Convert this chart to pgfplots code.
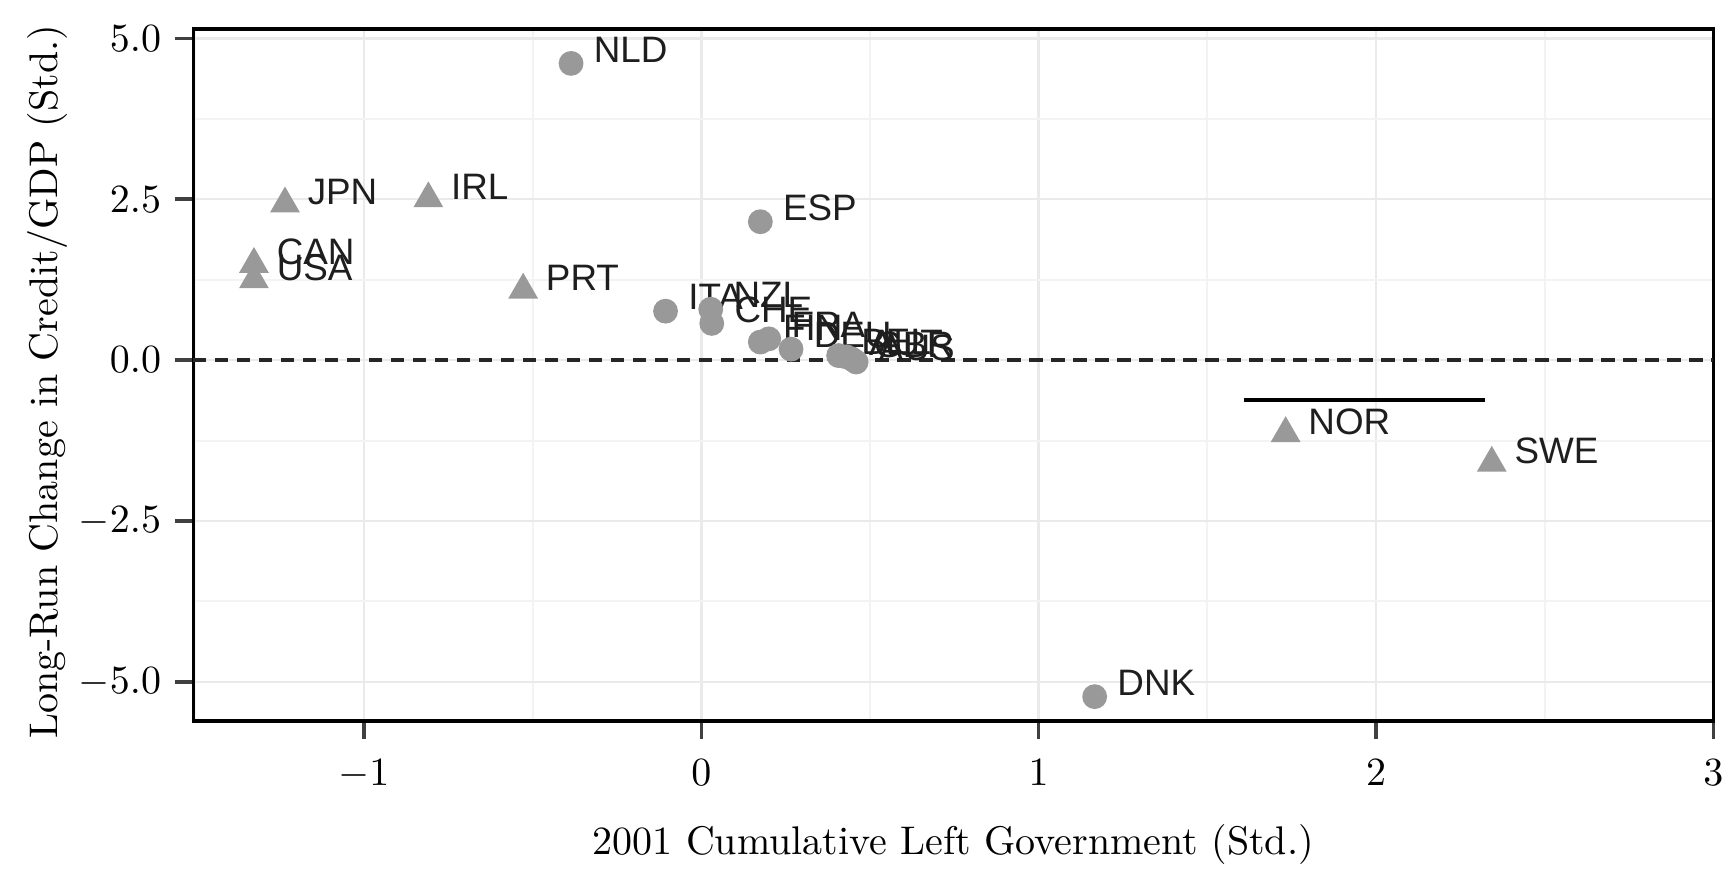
\documentclass[border=0pt]{standalone}
\usepackage{pgfplots}
\pgfplotsset{compat=1.18}
\usepackage{fontspec}
\newfontfamily\lab{Liberation Sans}
\definecolor{ptc}{RGB}{153,153,153}
\definecolor{gridc}{RGB}{234,234,234}
\definecolor{labc}{RGB}{30,30,30}

\pgfplotstableread{
x y label
-0.386 4.61 NLD
0.175 2.15 ESP
-0.106 0.76 ITA
0.028 0.79 NZL
0.031 0.57 CHE
0.175 0.28 FIN
0.20 0.33 FRA
0.266 0.17 DEU
0.407 0.07 BEL
0.43 0.05 AUT
0.445 0.02 GBR
0.459 -0.03 AUS
1.166 -5.23 DNK
}\circles

\pgfplotstableread{
x y label
-1.234 2.43 JPN
-0.809 2.51 IRL
-1.326 1.49 CAN
-1.326 1.25 USA
-0.528 1.09 PRT
1.732 -1.14 NOR
2.343 -1.60 SWE
}\triangles

\begin{document}
\begin{tikzpicture}
\useasboundingbox (-48.3pt,-36.75pt) rectangle (384.9pt,180.25pt);
\begin{axis}[
  at={(0,0)}, anchor=south west,
  scale only axis, width=380pt, height=173pt,
  xmin=-1.506, xmax=3, ymin=-5.61, ymax=5.145,
  xtick={-1,0,1,2,3}, ytick={-5,-2.5,0,2.5,5},
  minor xtick={-1.5,-0.5,0.5,1.5,2.5}, minor ytick={-3.75,-1.25,1.25,3.75},
  grid=both,
  major grid style={gridc, line width=0.6pt},
  minor grid style={gridc!60, line width=0.5pt},
  tick pos=left, tick align=outside,
  major tick length=4.5pt, minor tick length=0pt,
  every tick/.style={black!75, line width=0.9pt},
  axis line style={black, line width=0.8pt},
  yticklabel style={/pgf/number format/.cd, fixed, fixed zerofill, precision=1},
  xticklabel style={yshift=-1.5pt},
  ticklabel style={font=\fontsize{10}{12}\selectfont},
  xlabel={2001 Cumulative Left Government (Std.)},
  ylabel={Long-Run Change in Credit/GDP (Std.)},
  label style={font=\fontsize{10}{12}\selectfont},
  xlabel style={at={(axis description cs:0.5,-0.179)}, anchor=center},
  ylabel style={at={(axis description cs:-0.096,0.49)}, anchor=center},
  clip=false,
]
\addplot[black!85, line width=0.8pt, dash pattern=on 3.3pt off 2.2pt, forget plot]
  coordinates {(-1.506,0) (3,0)};
\addplot[black, line width=0.8pt, forget plot]
  coordinates {(1.608,-0.62) (2.322,-0.62)};
\addplot[only marks, mark=*, mark size=2.9pt, mark options={fill=ptc, draw=ptc},
  nodes near coords, point meta=explicit symbolic,
  nodes near coords style={anchor=west, xshift=5.5pt, yshift=3.5pt, inner sep=0pt,
    font=\lab\fontsize{9.2}{10}\selectfont, text=labc}]
  table[meta=label] {\circles};
\addplot[only marks, mark=triangle*, mark size=3.9pt, mark options={fill=ptc, draw=ptc},
  nodes near coords, point meta=explicit symbolic,
  nodes near coords style={anchor=west, xshift=5.5pt, yshift=3.0pt, inner sep=0pt,
    font=\lab\fontsize{9.2}{10}\selectfont, text=labc}]
  table[meta=label] {\triangles};
\end{axis}
\end{tikzpicture}
\end{document}
